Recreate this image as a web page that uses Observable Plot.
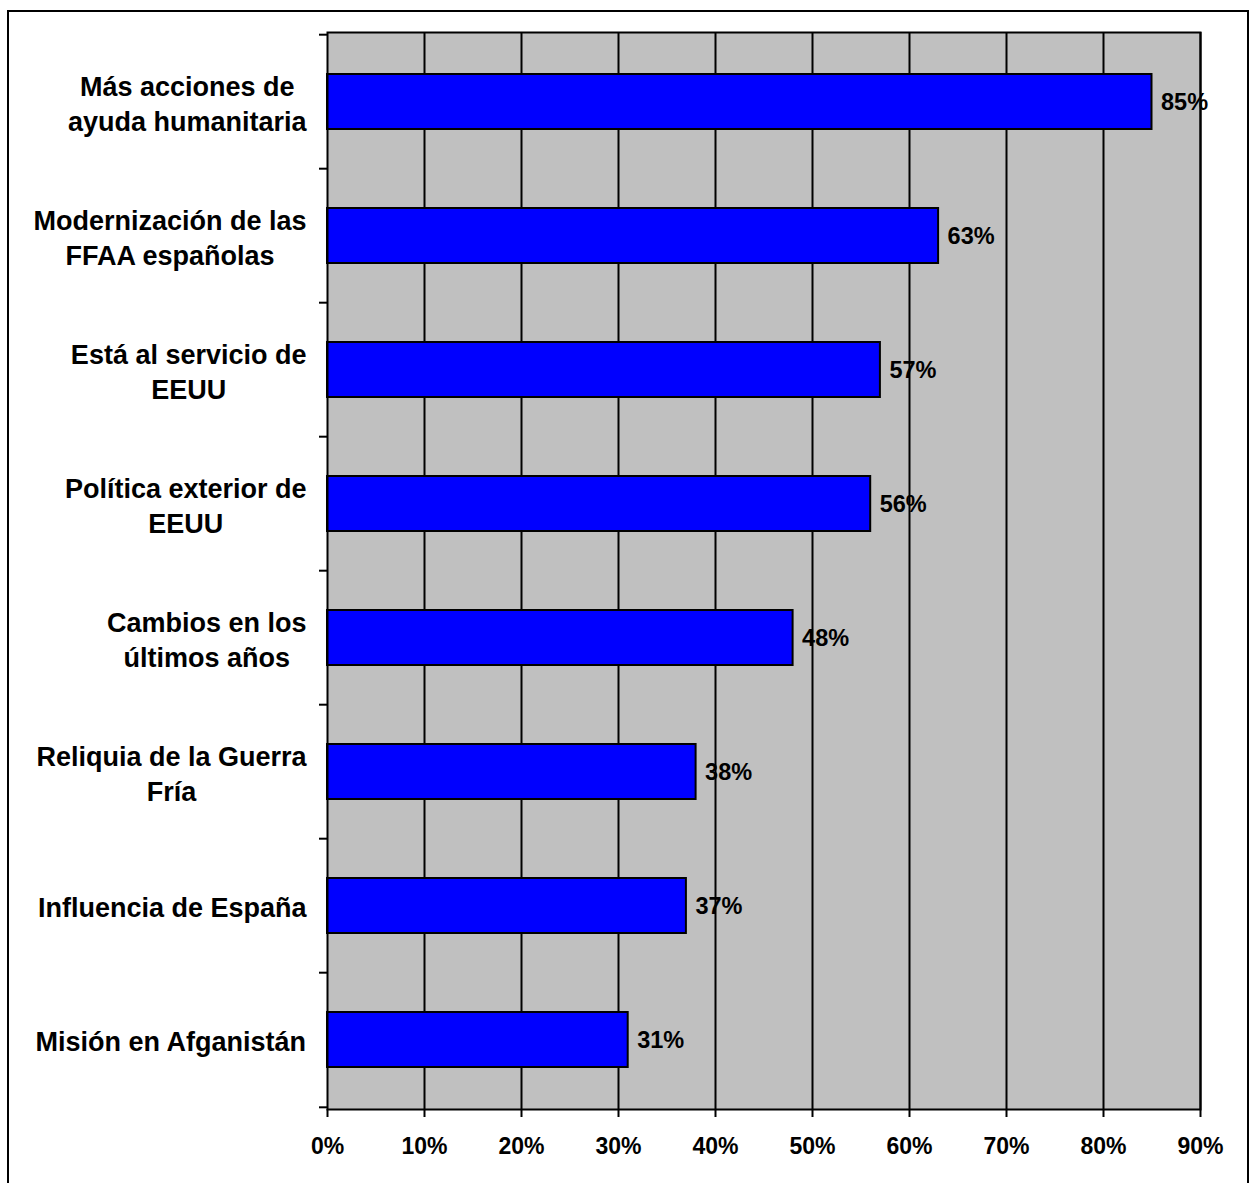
<!DOCTYPE html>
<html>
<head>
<meta charset="utf-8">
<script src="https://cdn.jsdelivr.net/npm/d3@7"></script>
<script src="https://cdn.jsdelivr.net/npm/@observablehq/plot@0.6"></script>
<style>
  html, body { margin: 0; padding: 0; background: #fff; overflow: hidden; }
  #wrap { position: relative; width: 1257px; height: 1183px; }
  #border { position: absolute; left: 7px; top: 10px; width: 1242px; height: 1300px; border: 2px solid #000; box-sizing: border-box; pointer-events: none; }
  #chart { position: absolute; left: 0; top: 0; }
</style>
</head>
<body>
<div id="wrap"><div id="chart"></div><div id="border"></div></div>
<script>
const categories = [
  "Más acciones de ayuda humanitaria",
  "Modernización de las FFAA españolas",
  "Está al servicio de EEUU",
  "Política exterior de EEUU",
  "Cambios en los últimos años",
  "Reliquia de la Guerra Fría",
  "Influencia de España",
  "Misión en Afganistán"
];
const labelLines = [
  "Más acciones de\nayuda humanitaria",
  "Modernización de las\nFFAA españolas",
  "Está al servicio de\nEEUU",
  "Política exterior de\nEEUU",
  "Cambios en los\núltimos años",
  "Reliquia de la Guerra\nFría",
  "Influencia de España",
  "Misión en Afganistán"
];
const values = [0.85, 0.63, 0.57, 0.56, 0.48, 0.38, 0.37, 0.31];
const xTicks = [0, 0.1, 0.2, 0.3, 0.4, 0.5, 0.6, 0.7, 0.8, 0.9];

const data = categories.map((c, i) => ({category: c, label: labelLines[i], value: values[i]}));
const pct = d3.format(".0%");

const W = 1257, H = 1183, mT = 32, mB = 74, mL = 327, mR = 57;
const step = (H - mT - mB) / categories.length;
const labelFont = 27;
const FONT = "'Liberation Sans', Arial, sans-serif";

// measure the widest line of each label so blocks are right-aligned with lines centred
const ctx = document.createElement("canvas").getContext("2d");
ctx.font = `bold ${labelFont}px ${FONT}`;
const blockWidth = s => Math.max(...s.split("\n").map(l => ctx.measureText(l).width));

const labelMarks = data.map(d =>
  Plot.text([d], {x: 0, y: "category", text: "label", textAnchor: "middle", lineHeight: 1.3,
    fontSize: labelFont, fontWeight: "bold", dx: -21 - blockWidth(d.label) / 2})
);

const svg = Plot.plot({
  width: W, height: H,
  marginTop: mT, marginBottom: mB, marginLeft: mL, marginRight: mR,
  style: {background: "transparent", fontFamily: FONT, fontWeight: "bold", color: "#000"},
  x: {domain: [0, 0.9], axis: null, label: null},
  y: {domain: categories, paddingInner: 0.59, paddingOuter: 0.295, axis: null, label: null},
  marks: [
    Plot.frame({fill: "#c0c0c0", stroke: null}),
    Plot.ruleX(xTicks.slice(1), {stroke: "#000", strokeWidth: 2}),
    Plot.barX(data, {x: "value", y: "category", fill: "#0000ff", stroke: "#000", strokeWidth: 2}),
    Plot.frame({stroke: "#000", strokeWidth: 2, fill: null}),
    Plot.axisX({ticks: xTicks, tickFormat: pct, tickSize: 8, tickPadding: 20, strokeWidth: 2, fontSize: 23, fontWeight: "bold", label: null}),
    Plot.axisY({ticks: categories, tickSize: 8, fill: "none", strokeWidth: 2, dy: -step / 2, label: null}),
    Plot.axisY({ticks: categories.slice(-1), tickSize: 8, fill: "none", strokeWidth: 2, dy: step / 2, label: null}),
    ...labelMarks,
    Plot.text(data, {x: "value", y: "category", text: d => pct(d.value), textAnchor: "start", dx: 9, fontSize: 23.5, fontWeight: "bold"})
  ]
});
document.getElementById("chart").append(svg);
</script>
</body>
</html>
